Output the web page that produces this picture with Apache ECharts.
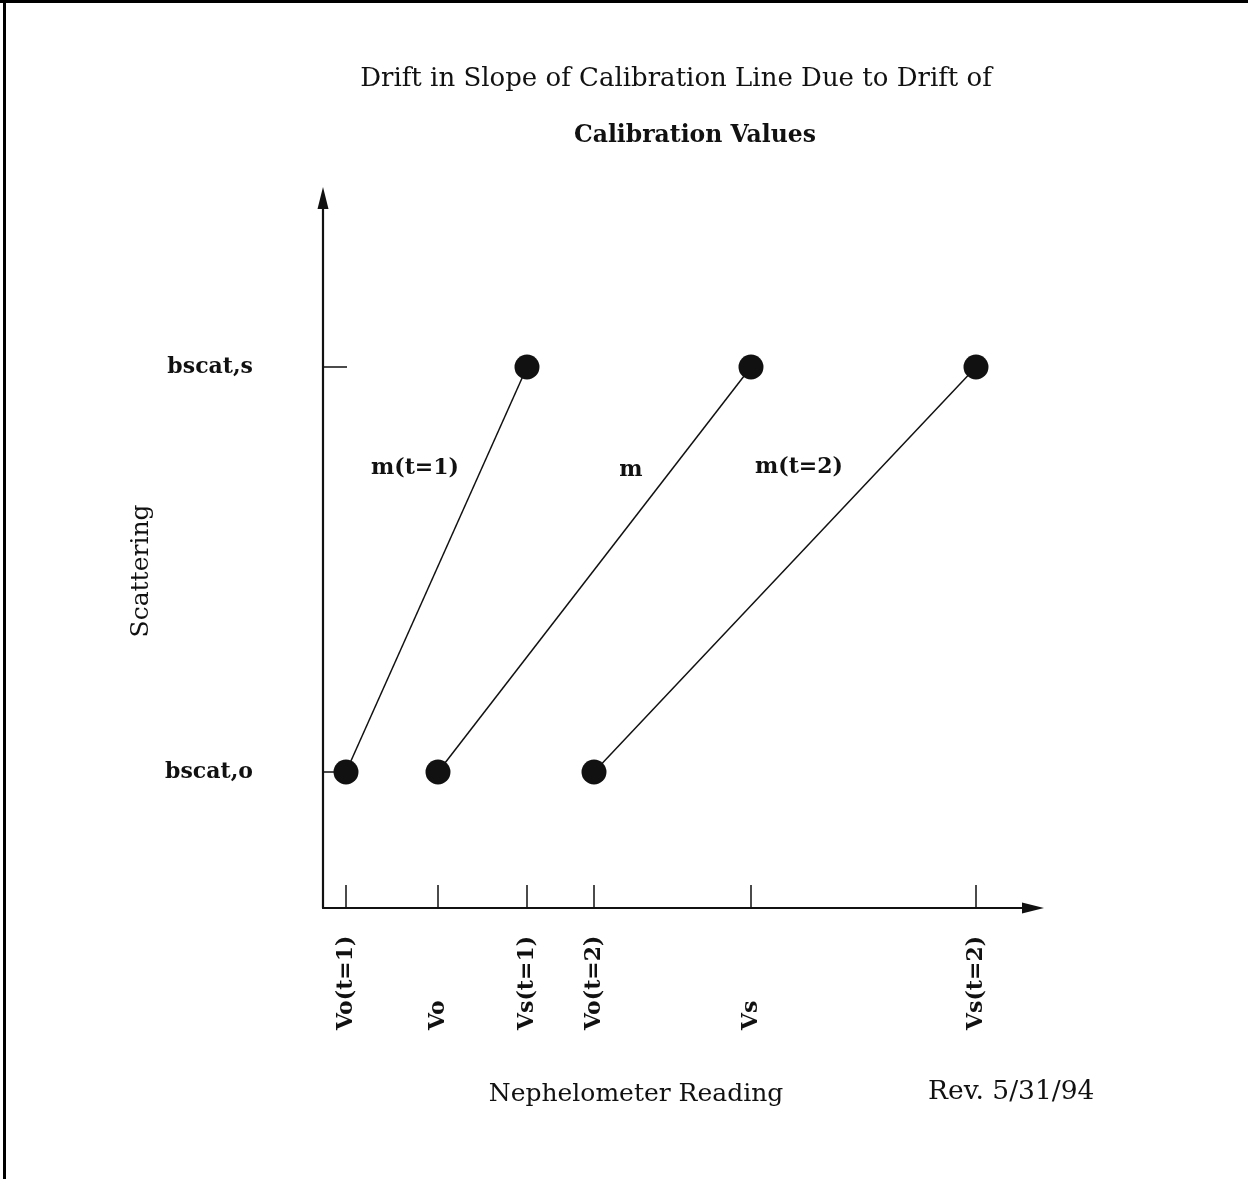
<!DOCTYPE html>
<html>
<head>
<meta charset="utf-8">
<script src="https://cdn.jsdelivr.net/npm/echarts@6/dist/echarts.min.js"></script>
<style>
  html, body { margin: 0; padding: 0; background: #fff; }
  #chart { width: 1248px; height: 1179px; }
</style>
</head>
<body>
<div id="chart"></div>
<script>
// Schematic positions along the reading axis (arbitrary units)
const readingTickValues = [2.3, 11.5, 20.4, 27.1, 42.8, 65.3];
const readingTickLabels = ['Vo(t=1)', 'Vo', 'Vs(t=1)', 'Vo(t=2)', 'Vs', 'Vs(t=2)'];

// Scattering levels (arbitrary units)
const scatterTickValues = [13.6, 54.1];
const scatterTickLabels = ['bscat,o', 'bscat,s'];

// Calibration lines: zero point (Vo, bscat,o) to span point (Vs, bscat,s)
const lineNames = ['m(t=1)', 'm', 'm(t=2)'];
const zeroReadings = [2.3, 11.5, 27.1];
const spanReadings = [20.4, 42.8, 65.3];
const zeroScatter = [13.6, 13.6, 13.6];
const spanScatter = [54.1, 54.1, 54.1];

// Where each slope label sits
const slopeLabelX = [9.2, 30.8, 47.6];
const slopeLabelY = [44.0, 43.8, 44.1];

const FONT = '"DejaVu Serif", "Liberation Serif", serif';
const INK = '#111';

const chart = echarts.init(document.getElementById('chart'), null, { renderer: 'canvas' });

function labelFor(values, labels) {
  return function (v) {
    for (let i = 0; i < values.length; i++) {
      if (Math.abs(values[i] - v) < 1e-6) return labels[i];
    }
    return '';
  };
}

const lineSeries = lineNames.map(function (name, i) {
  return {
    type: 'line',
    name: name,
    data: [[zeroReadings[i], zeroScatter[i]], [spanReadings[i], spanScatter[i]]],
    symbol: 'circle',
    symbolSize: 25,
    showAllSymbol: true,
    lineStyle: { color: INK, width: 1.5 },
    itemStyle: { color: INK },
    z: 3,
    silent: true,
    animation: false
  };
});

const slopeLabels = {
  type: 'scatter',
  data: lineNames.map(function (n, i) { return { value: [slopeLabelX[i], slopeLabelY[i]], name: n }; }),
  symbolSize: 1,
  itemStyle: { color: 'rgba(0,0,0,0)' },
  silent: true,
  animation: false,
  label: {
    show: true,
    position: 'inside',
    formatter: function (p) { return p.name; },
    color: INK,
    opacity: 1,
    textBorderWidth: 0,
    fontFamily: FONT,
    fontSize: 22,
    fontWeight: 'bold'
  }
};

chart.setOption({
  backgroundColor: '#fff',
  animation: false,
  title: [
    {
      text: 'Drift in Slope of Calibration Line Due to Drift of',
      left: 671, top: 61, textAlign: 'center',
      textStyle: { fontFamily: FONT, fontSize: 26, fontWeight: 'normal', color: INK }
    },
    {
      text: 'Calibration Values',
      left: 690, top: 119, textAlign: 'center',
      textStyle: { fontFamily: FONT, fontSize: 23.5, fontWeight: 'bold', color: INK }
    }
  ],
  grid: { left: 323, right: 215, top: 198, bottom: 271, containLabel: false },
  xAxis: {
    type: 'value',
    min: 0, max: 71,
    name: 'Nephelometer Reading',
    nameLocation: 'middle',
    nameGap: 174,
    nameTextStyle: { fontFamily: FONT, fontSize: 25, color: INK, padding: [0, 84, 0, 0] },
    splitLine: { show: false },
    axisLine: {
      show: true, onZero: false,
      lineStyle: { color: INK, width: 2.2 },
      symbol: ['none', 'triangle'],
      symbolSize: [11, 22]
    },
    axisTick: {
      show: true, inside: true, length: 23,
      customValues: readingTickValues,
      lineStyle: { color: INK, width: 1.5 }
    },
    axisLabel: {
      show: true,
      customValues: readingTickValues,
      formatter: labelFor(readingTickValues, readingTickLabels),
      rotate: 90,
      align: 'left',
      verticalAlign: 'middle',
      margin: 122,
      fontFamily: FONT, fontSize: 22, fontWeight: 'bold', color: INK
    }
  },
  yAxis: {
    type: 'value',
    min: 0, max: 71,
    name: 'Scattering',
    nameLocation: 'middle',
    nameGap: 159,
    nameRotate: 90,
    nameTextStyle: { fontFamily: FONT, fontSize: 25, color: INK, padding: [0, 36, 0, 0] },
    splitLine: { show: false },
    axisLine: {
      show: true, onZero: false,
      lineStyle: { color: INK, width: 2.2 },
      symbol: ['none', 'triangle'],
      symbolSize: [11, 22]
    },
    axisTick: {
      show: true, inside: true, length: 24,
      customValues: scatterTickValues,
      lineStyle: { color: INK, width: 1.5 }
    },
    axisLabel: {
      show: true,
      customValues: scatterTickValues,
      formatter: labelFor(scatterTickValues, scatterTickLabels),
      margin: 70,
      fontFamily: FONT, fontSize: 22, fontWeight: 'bold', color: INK
    }
  },
  series: lineSeries.concat([slopeLabels]),
  graphic: [
    {
      type: 'text', left: 928, top: 1079, silent: true,
      style: { text: 'Rev. 5/31/94', font: '26.5px ' + FONT, fill: INK }
    },
    {
      type: 'line', silent: true,
      shape: { x1: 0, y1: 1.5, x2: 1248, y2: 1.5 },
      style: { stroke: '#000', lineWidth: 3 }
    },
    {
      type: 'line', silent: true,
      shape: { x1: 4.5, y1: 0, x2: 4.5, y2: 1179 },
      style: { stroke: '#000', lineWidth: 3 }
    }
  ]
});
</script>
</body>
</html>
